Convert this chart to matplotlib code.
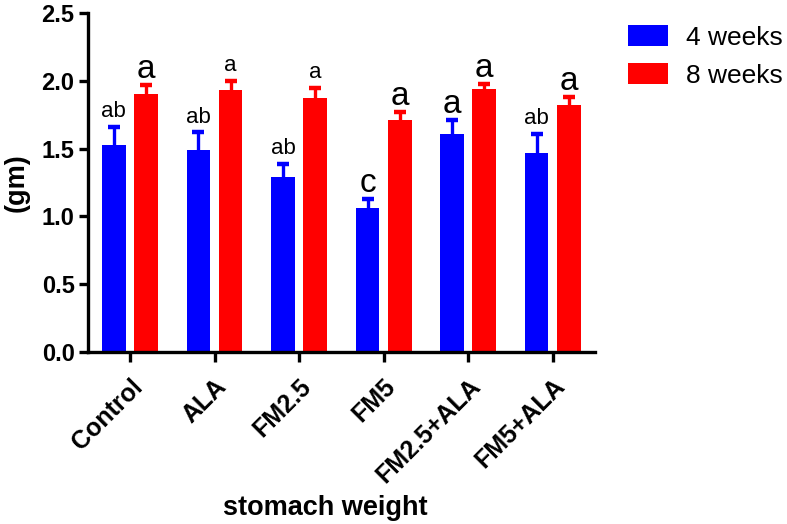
import matplotlib
matplotlib.use("Agg")
import matplotlib.pyplot as plt
import numpy as np

plt.rcParams['font.family'] = ['Liberation Sans', 'DejaVu Sans']

categories = ["Control", "ALA", "FM2.5", "FM5", "FM2.5+ALA", "FM5+ALA"]
series_names = ["4 weeks", "8 weeks"]
weeks4 = [1.53, 1.49, 1.29, 1.065, 1.61, 1.47]
weeks4_err = [0.13, 0.13, 0.10, 0.065, 0.10, 0.14]
weeks8 = [1.905, 1.93, 1.87, 1.71, 1.94, 1.82]
weeks8_err = [0.065, 0.07, 0.08, 0.06, 0.04, 0.06]
labels4 = ["ab", "ab", "ab", "c", "a", "ab"]
labels8 = ["a", "a", "a", "a", "a", "a"]
big4 = [False, False, False, True, True, False]
big8 = [True, False, False, True, True, True]
yticks = [0.0, 0.5, 1.0, 1.5, 2.0, 2.5]

colors = ["#0000FF", "#FF0000"]

fig = plt.figure(figsize=(7.87, 5.24), dpi=100)
ax = fig.add_axes([87.7/787, 1 - 352/524, (595 - 87.7)/787, (352 - 13)/524])

x = np.arange(len(categories))
w = 0.28
off = 0.19
for vals, errs, labs, bigs, col, sgn, name in [
    (weeks4, weeks4_err, labels4, big4, colors[0], -1, series_names[0]),
    (weeks8, weeks8_err, labels8, big8, colors[1], 1, series_names[1]),
]:
    xs = x + sgn * off
    ax.bar(xs, vals, width=w, color=col, label=name, zorder=2)
    eb = ax.errorbar(xs, vals, yerr=[np.zeros(len(vals)), errs], fmt='none',
                     ecolor=col, elinewidth=2.4, capsize=4.5, capthick=3.2, zorder=3)
    eb[1][0].set_visible(False)
    for xi, v, e, lab, big in zip(xs, vals, errs, labs, bigs):
        ax.annotate(lab, (xi, v + e), xytext=(0, 5 if big else 7),
                    textcoords='offset points', ha='center', va='baseline',
                    fontsize=24 if big else 16)

ax.set_xlim(-0.5, 5.5)
ax.set_ylim(0, 2.5)
ax.set_yticks(yticks)
ax.set_yticklabels([f"{t:.1f}" for t in yticks], fontsize=17, fontweight='bold')
ax.set_xticks(x)
ax.set_xticklabels(categories, fontsize=18, fontweight='bold', rotation=45,
                   ha='right', rotation_mode='anchor')

for s in ['top', 'right']:
    ax.spines[s].set_visible(False)
for s in ['left', 'bottom']:
    ax.spines[s].set_linewidth(2.4)
ax.tick_params(axis='both', width=2.4, length=6.5, pad=3)
ax.tick_params(axis='x', pad=9, length=7)

ax.set_xlabel("stomach weight", fontsize=19.5, fontweight='bold')
ax.xaxis.set_label_coords(0.468, -0.48)
ax.xaxis.label.set_va('baseline')
ax.set_ylabel("(gm)", fontsize=19.5, fontweight='bold')
ax.yaxis.set_label_coords(-0.140, 0.5)
ax.yaxis.label.set_va('center')

leg = ax.legend(loc='upper left', bbox_to_anchor=(628/787, 1 - 25/524),
                bbox_transform=fig.transFigure, frameon=False, fontsize=19,
                handlelength=1.5, handleheight=0.85, handletextpad=0.7,
                labelspacing=0.5, borderpad=0, borderaxespad=0)

fig.savefig("out.png", dpi=100)
